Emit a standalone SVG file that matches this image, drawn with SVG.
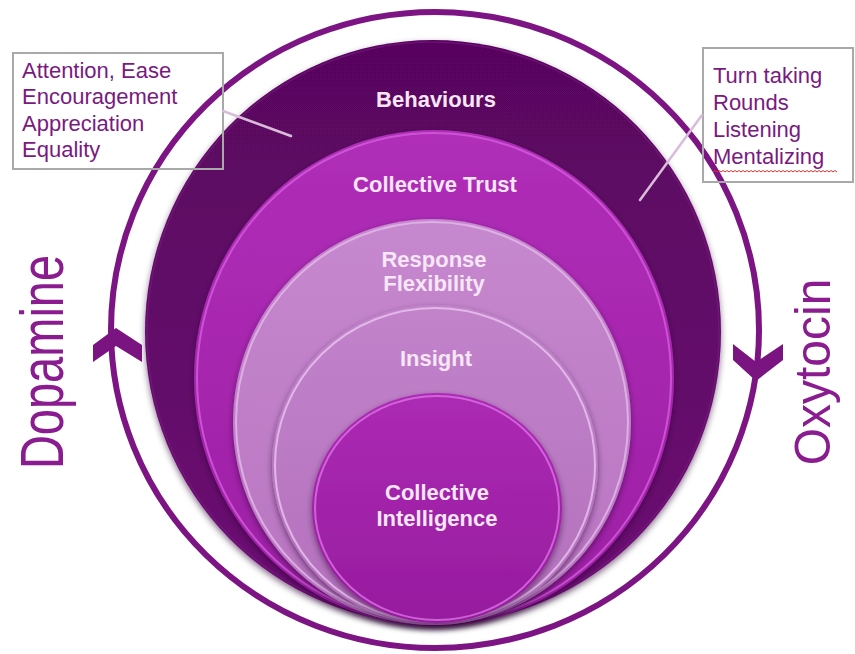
<svg xmlns="http://www.w3.org/2000/svg" width="855" height="654" viewBox="0 0 855 654">
  <style>
    .lbl { font-family: "Liberation Sans", Arial, sans-serif; font-weight: bold; font-size: 22px; fill: #f6e6f6; text-anchor: middle; }
    .note { font-family: "Liberation Sans", Arial, sans-serif; font-size: 22px; fill: #7a1a80; }
    .side { font-family: "Liberation Sans", Arial, sans-serif; fill: #8a1c90; text-anchor: middle; }
    .box { fill: none; stroke: #a9a9a9; stroke-width: 2; }
    .leader { stroke: #d9bcd9; stroke-width: 2.5; fill: none; stroke-linecap: round; }
    .ring { fill: none; stroke: #7d1483; stroke-width: 6; }
    .chev { fill: #7a1480; }
  </style>
  <defs>
    <filter id="shadow" x="-10%" y="-10%" width="120%" height="125%">
      <feDropShadow dx="0" dy="3" stdDeviation="3" flood-color="#2a0030" flood-opacity="0.55"/>
    </filter>
    <linearGradient id="gBeh" x1="0" y1="0" x2="0" y2="1">
      <stop offset="0" stop-color="#58065e"/>
      <stop offset="1" stop-color="#6c0b73"/>
    </linearGradient>
    <linearGradient id="gTrust" x1="0" y1="0" x2="0" y2="1">
      <stop offset="0" stop-color="#b02eb8"/>
      <stop offset="1" stop-color="#9c1ea4"/>
    </linearGradient>
    <linearGradient id="gFlex" x1="0" y1="0" x2="0" y2="1">
      <stop offset="0" stop-color="#c688ce"/>
      <stop offset="1" stop-color="#b874c0"/>
    </linearGradient>
    <linearGradient id="gIns" x1="0" y1="0" x2="0" y2="1">
      <stop offset="0" stop-color="#c283cb"/>
      <stop offset="1" stop-color="#b470bd"/>
    </linearGradient>
    <linearGradient id="gCI" x1="0" y1="0" x2="0" y2="1">
      <stop offset="0" stop-color="#ac2ab4"/>
      <stop offset="1" stop-color="#961c9e"/>
    </linearGradient>
  </defs>

  <rect width="855" height="654" fill="#ffffff"/>

  <!-- outer cycle ring with its two direction chevrons -->
  <g id="cycle">
    <ellipse class="ring" cx="435" cy="330" rx="324" ry="318"/>
    <polygon class="chev" points="93,345 116,328 142,345 142,362 116,346 93,362"/>
    <polygon class="chev" points="733,344 756,362 783,344 783,360 756,381 733,360"/>
  </g>

  <!-- nested layers, outermost first -->
  <g id="behaviours">
    <ellipse cx="433" cy="332" rx="288" ry="292" fill="url(#gBeh)" filter="url(#shadow)"/>
    <ellipse cx="433" cy="332" rx="286" ry="290" fill="none" stroke="#7a1a80" stroke-width="1.5" opacity="0.6"/>
    <text class="lbl" x="436" y="107">Behaviours</text>
  </g>

  <g id="collective-trust">
    <ellipse cx="434" cy="378" rx="240" ry="248" fill="url(#gTrust)" filter="url(#shadow)"/>
    <ellipse cx="434" cy="378" rx="237" ry="245" fill="none" stroke="#d45cdc" stroke-width="2" opacity="0.8"/>
    <text class="lbl" x="435" y="192">Collective Trust</text>
  </g>

  <g id="response-flexibility">
    <ellipse cx="432" cy="422" rx="199" ry="203" fill="url(#gFlex)" filter="url(#shadow)"/>
    <ellipse cx="432" cy="422" rx="196" ry="200" fill="none" stroke="#e4bcea" stroke-width="2" opacity="0.8"/>
    <text class="lbl" x="434" y="267">Response</text>
    <text class="lbl" x="434" y="291">Flexibility</text>
  </g>

  <g id="insight">
    <ellipse cx="435" cy="465" rx="163" ry="160" fill="url(#gIns)" filter="url(#shadow)"/>
    <ellipse cx="435" cy="465" rx="160" ry="157" fill="none" stroke="#e6c2ec" stroke-width="2" opacity="0.85"/>
    <text class="lbl" x="436" y="366">Insight</text>
  </g>

  <g id="collective-intelligence">
    <ellipse cx="437" cy="508" rx="125" ry="115" fill="url(#gCI)" filter="url(#shadow)"/>
    <ellipse cx="437" cy="508" rx="122" ry="112" fill="none" stroke="#dc72e4" stroke-width="2" opacity="0.8"/>
    <text class="lbl" x="437" y="500">Collective</text>
    <text class="lbl" x="437" y="526">Intelligence</text>
  </g>

  <!-- side labels, reading upwards -->
  <g id="dopamine">
    <text class="side" font-size="47" transform="translate(63,362) rotate(-90) scale(1,1.3)">Dopamine</text>
  </g>
  <g id="oxytocin">
    <text class="side" font-size="48" transform="translate(830,372) rotate(-90) scale(1,1.05)">Oxytocin</text>
  </g>

  <!-- callout boxes -->
  <g id="note-left">
    <rect class="box" x="13" y="53" width="210" height="116"/>
    <text class="note" x="22" y="78">Attention, Ease</text>
    <text class="note" x="22" y="104">Encouragement</text>
    <text class="note" x="22" y="131">Appreciation</text>
    <text class="note" x="22" y="157">Equality</text>
  </g>

  <g id="note-right">
    <rect class="box" x="703" y="48" width="150" height="134"/>
    <text class="note" x="713" y="83" font-size="23">Turn taking</text>
    <text class="note" x="713" y="110" font-size="23">Rounds</text>
    <text class="note" x="713" y="137" font-size="23">Listening</text>
    <text class="note" x="713" y="164" font-size="23">Mentalizing</text>
    <path d="M713,172 l2,-1.5 2,1.5 2,-1.5 2,1.5 2,-1.5 2,1.5 2,-1.5 2,1.5 2,-1.5 2,1.5 2,-1.5 2,1.5 2,-1.5 2,1.5 2,-1.5 2,1.5 2,-1.5 2,1.5 2,-1.5 2,1.5 2,-1.5 2,1.5 2,-1.5 2,1.5 2,-1.5 2,1.5 2,-1.5 2,1.5 2,-1.5 2,1.5 2,-1.5 2,1.5 2,-1.5 2,1.5 2,-1.5 2,1.5 2,-1.5 2,1.5 2,-1.5 2,1.5 2,-1.5 2,1.5 2,-1.5 2,1.5 2,-1.5 2,1.5 2,-1.5 2,1.5 2,-1.5 2,1.5 2,-1.5 2,1.5 2,-1.5 2,1.5 2,-1.5 2,1.5 2,-1.5 2,1.5 2,-1.5 2,1.5 2,-1.5 2,1.5" fill="none" stroke="#e03030" stroke-width="1"/>
  </g>

  <!-- leader lines from callouts into the Behaviours layer -->
  <g id="connectors">
    <line class="leader" x1="223" y1="111" x2="291" y2="136"/>
    <line class="leader" x1="702" y1="115" x2="640" y2="200"/>
  </g>
</svg>
